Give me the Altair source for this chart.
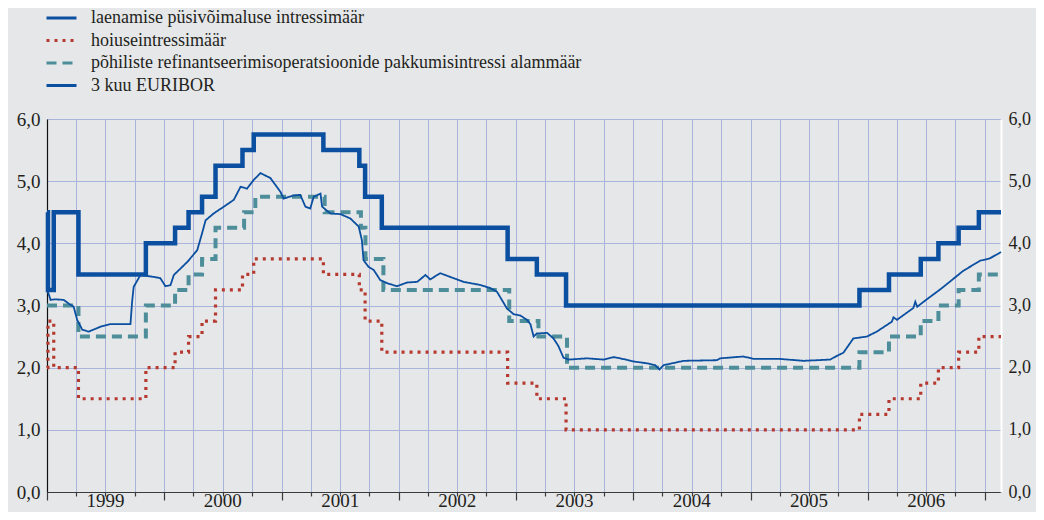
import altair as alt
import pandas as pd

SERIES = [
    "laenamise püsivõimaluse intressimäär",
    "hoiuseintressimäär",
    "põhiliste refinantseerimisoperatsioonide pakkumisintressi alammäär",
    "3 kuu EURIBOR",
]
END_DATE = "2007-02-20"

policy_dates = ["1999-01-01", "1999-01-04", "1999-01-22", "1999-04-09", "1999-11-05",
                "2000-02-04", "2000-03-17", "2000-04-28", "2000-06-09", "2000-09-01",
                "2000-10-06", "2001-05-11", "2001-08-31", "2001-09-18", "2001-11-09",
                "2002-12-06", "2003-03-07", "2003-06-06", "2005-12-06", "2006-03-08",
                "2006-06-15", "2006-08-09", "2006-10-11", "2006-12-13"]
lending_rate = [4.50, 3.25, 4.50, 3.50, 4.00, 4.25, 4.50, 4.75, 5.25, 5.50, 5.75, 5.50,
                5.25, 4.75, 4.25, 3.75, 3.50, 3.00, 3.25, 3.50, 3.75, 4.00, 4.25, 4.50]
deposit_rate = [2.00, 2.75, 2.00, 1.50, 2.00, 2.25, 2.50, 2.75, 3.25, 3.50, 3.75, 3.50,
                3.25, 2.75, 2.25, 1.75, 1.50, 1.00, 1.25, 1.50, 1.75, 2.00, 2.25, 2.50]

mro_dates = ["1999-01-01", "1999-04-09", "1999-11-05", "2000-02-04", "2000-03-17",
             "2000-04-28", "2000-06-09", "2000-09-06", "2000-10-11", "2001-05-15",
             "2001-09-05", "2001-09-19", "2001-11-14", "2002-12-11", "2003-03-12",
             "2003-06-09", "2005-12-06", "2006-03-08", "2006-06-15", "2006-08-09",
             "2006-10-11", "2006-12-13"]
mro_rate = [3.00, 2.50, 3.00, 3.25, 3.50, 3.75, 4.25, 4.50, 4.75, 4.50, 4.25, 3.75,
            3.25, 2.75, 2.50, 2.00, 2.25, 2.50, 2.75, 3.00, 3.25, 3.50]

euribor_dates = [
    "1999-01-04", "1999-01-12", "1999-01-27", "1999-02-22", "1999-03-10", "1999-03-25",
    "1999-04-05", "1999-04-21", "1999-05-11", "1999-06-17", "1999-07-18", "1999-09-18",
    "1999-09-23", "1999-09-28", "1999-10-19", "1999-11-30", "1999-12-20", "2000-01-05",
    "2000-01-21", "2000-01-31", "2000-03-13", "2000-04-13", "2000-04-28", "2000-05-09",
    "2000-06-03", "2000-07-05", "2000-08-05", "2000-08-26", "2000-09-15", "2000-10-06",
    "2000-10-27", "2000-11-27", "2000-12-28", "2001-01-07", "2001-02-07", "2001-02-28",
    "2001-03-16", "2001-03-31", "2001-04-11", "2001-05-02", "2001-05-07", "2001-06-02",
    "2001-07-03", "2001-08-03", "2001-08-29", "2001-09-08", "2001-09-13", "2001-09-29",
    "2001-10-15", "2001-11-04", "2001-11-25", "2001-12-26", "2002-01-27", "2002-02-27",
    "2002-03-25", "2002-04-09", "2002-05-10", "2002-06-10", "2002-07-22", "2002-09-12",
    "2002-10-13", "2002-11-03", "2002-11-18", "2002-12-04", "2002-12-25", "2003-01-14",
    "2003-02-04", "2003-02-15", "2003-02-25", "2003-03-07", "2003-04-08", "2003-04-28",
    "2003-05-13", "2003-05-29", "2003-06-14", "2003-08-10", "2003-10-01", "2003-11-01",
    "2003-11-22", "2004-01-02", "2004-02-13", "2004-03-10", "2004-03-23", "2004-04-05",
    "2004-06-06", "2004-09-18", "2004-09-28", "2004-12-10", "2005-01-10", "2005-04-03",
    "2005-06-15", "2005-09-06", "2005-09-27", "2005-10-17", "2005-11-17", "2005-12-29",
    "2006-01-29", "2006-03-17", "2006-03-22", "2006-04-02", "2006-05-23", "2006-05-29",
    "2006-06-04", "2006-07-04", "2006-08-15", "2006-09-20", "2006-10-26", "2006-12-17",
    "2007-01-17", "2007-02-20"]
euribor_rate = [
    3.22, 3.09, 3.10, 3.09, 3.03, 2.98,
    2.77, 2.61, 2.58, 2.66, 2.70, 2.70,
    3.05, 3.30, 3.49, 3.46, 3.44, 3.31,
    3.33, 3.49, 3.70, 3.89, 4.16, 4.37,
    4.48, 4.59, 4.70, 4.91, 4.88, 5.02,
    5.13, 5.05, 4.83, 4.72, 4.77, 4.78,
    4.59, 4.56, 4.75, 4.80, 4.59, 4.48,
    4.47, 4.40, 4.27, 4.05, 3.73, 3.62,
    3.57, 3.41, 3.36, 3.31, 3.37, 3.38,
    3.49, 3.42, 3.52, 3.46, 3.38, 3.33,
    3.28, 3.22, 3.09, 2.95, 2.86, 2.84,
    2.77, 2.70, 2.50, 2.55, 2.56, 2.47,
    2.35, 2.16, 2.13, 2.15, 2.13, 2.17,
    2.15, 2.10, 2.07, 2.04, 1.97, 2.04,
    2.11, 2.12, 2.15, 2.18, 2.14, 2.14,
    2.11, 2.13, 2.19, 2.24, 2.47, 2.50,
    2.58, 2.74, 2.81, 2.77, 2.96, 3.06,
    2.98, 3.10, 3.26, 3.41, 3.56, 3.72,
    3.76, 3.86]

y_ticks = [0, 1, 2, 3, 4, 5, 6]
year_labels = list(range(1999, 2007))

FONT = "Liberation Serif"
BG = "#E6E7E9"
GRID = "#AAB3DA"
TEXT = "#231F20"
colors = ["#0A4FA0", "#B5392E", "#4D8E9A", "#0A4FA0"]
dashes = [[1, 0], [3, 5], [10, 6], [1, 0]]
widths = [4.5, 3.2, 4.0, 1.8]


def step_frame(name, dates, values):
    return pd.DataFrame({
        "date": pd.to_datetime(dates + [END_DATE]),
        "rate": values + [values[-1]],
        "series": name,
    })


df_lend = step_frame(SERIES[0], policy_dates, lending_rate)
df_dep = step_frame(SERIES[1], policy_dates, deposit_rate)
df_mro = step_frame(SERIES[2], mro_dates, mro_rate)
df_eur = pd.DataFrame({"date": pd.to_datetime(euribor_dates), "rate": euribor_rate,
                       "series": SERIES[3]})

x_scale = alt.Scale(domain=[alt.DateTime(year=1999, month=1, date=1),
                            alt.DateTime(year=2007, month=2, date=20)])
y_scale = alt.Scale(domain=[0, 6], nice=False)

quarter_ticks = [alt.DateTime(year=y, month=m, date=1)
                 for y in range(1999, 2008) for m in (1, 4, 7, 10)
                 if (y, m) <= (2007, 1)]

label_expr_y = "replace(format(datum.value, '.1f'), '.', ',')"

x_axis = alt.Axis(
    values=quarter_ticks, title=None, grid=True, gridColor=GRID, gridWidth=1,
    domainColor="#3a3a3a", domainWidth=1.2, tickColor="#3a3a3a", tickWidth=1.2,
    tickSize={"condition": {"test": "month(datum.value) == 0", "value": 8}, "value": 4},
    labelExpr="month(datum.value) == 0 && year(datum.value) < %d ? timeFormat(datum.value, '%%Y') : ''" % (year_labels[-1] + 1),
    labelOffset=58, labelOverlap=False, labelFlush=False,
    labelBaseline="alphabetic", labelPadding=6,
    labelFont=FONT, labelFontSize=19, labelColor=TEXT,
)
y_axis_left = alt.Axis(
    values=y_ticks, title=None, grid=True, gridColor=GRID, gridWidth=1,
    domainColor="#111111", domainWidth=1.2, ticks=False, labelExpr=label_expr_y,
    labelPadding=7, labelFont=FONT, labelFontSize=19, labelColor=TEXT,
)
y_axis_right = alt.Axis(
    values=y_ticks, title=None, grid=False, orient="right",
    domainColor="#FFFFFF", domainWidth=2, ticks=False, labelExpr=label_expr_y,
    labelPadding=7, labelFont=FONT, labelFontSize=18, labelColor=TEXT,
)

color_enc = alt.Color("series:N", scale=alt.Scale(domain=SERIES, range=colors),
                      legend=alt.Legend(title=None))
dash_enc = alt.StrokeDash("series:N", scale=alt.Scale(domain=SERIES, range=dashes),
                          legend=alt.Legend(title=None))


def layer(df, width, interp, x_axis_obj=None, y_axis_obj=None):
    return alt.Chart(df).mark_line(interpolate=interp, strokeWidth=width).encode(
        x=alt.X("date:T", scale=x_scale, axis=x_axis_obj),
        y=alt.Y("rate:Q", scale=y_scale, axis=y_axis_obj),
        color=color_enc,
        strokeDash=dash_enc,
    )


chart = alt.layer(
    layer(df_lend, widths[0], "step-after", x_axis, y_axis_left),
    layer(df_dep, widths[1], "step-after"),
    layer(df_mro, widths[2], "step-after"),
    layer(df_eur, widths[3], "linear", None, y_axis_right),
).resolve_axis(x="independent", y="independent").properties(
    width=954, height=373,
    padding={"left": 39, "top": 111, "right": 35, "bottom": 20},
    autosize="none",
    background=BG,
).configure_view(stroke=None).configure_legend(
    orient="none", legendX=5.5, legendY=-110, symbolType="M-2,0H2", symbolSize=225,
    symbolStrokeWidth=3, labelFont=FONT, labelFontSize=18, labelColor=TEXT,
    labelLimit=0, rowPadding=4.5, labelOffset=20.5, padding=0,
)

chart.save("out.html", embed_options={"renderer": "svg", "actions": False})
